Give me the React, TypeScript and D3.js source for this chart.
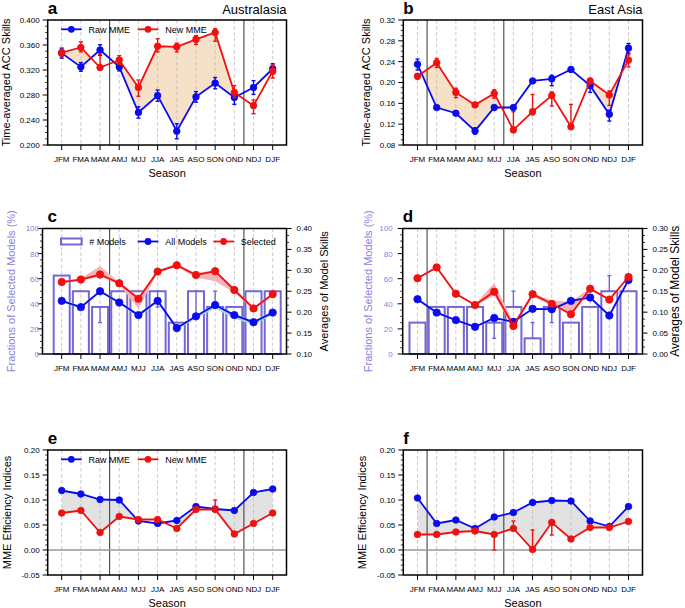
import React from "react";
import * as d3 from "d3";

const seasons = ["JFM", "FMA", "MAM", "AMJ", "MJJ", "JJA", "JAS", "ASO", "SON", "OND", "NDJ", "DJF"];

// Panel a: Australasia ACC
const auRawAcc = [0.347, 0.325, 0.352, 0.325, 0.252, 0.279, 0.222, 0.277, 0.299, 0.276, 0.292, 0.322];
const auRawHi = [0.355, 0.332, 0.3605, 0.3315, 0.261, 0.288, 0.234, 0.2855, 0.308, 0.287, 0.303, 0.330];
const auRawLo = [0.339, 0.318, 0.3435, 0.3185, 0.243, 0.270, 0.210, 0.2685, 0.290, 0.265, 0.281, 0.314];
const auNewAcc = [0.348, 0.356, 0.324, 0.336, 0.292, 0.358, 0.357, 0.369, 0.380, 0.284, 0.263, 0.318];
const auNewHi = [0.353, 0.365, 0.345, 0.343, 0.304, 0.370, 0.363, 0.375, 0.386, 0.295, 0.272, 0.328];
const auNewLo = [0.341, 0.349, 0.320, 0.329, 0.278, 0.349, 0.349, 0.361, 0.366, 0.276, 0.250, 0.307];

// Panel b: East Asia ACC
const eaRawAcc = [0.235, 0.152, 0.141, 0.107, 0.152, 0.152, 0.203, 0.207, 0.225, 0.194, 0.139, 0.266];
const eaRawHi = [0.245, 0.155, 0.145, 0.113, 0.156, 0.156, 0.206, 0.214, 0.230, 0.202, 0.147, 0.275];
const eaRawLo = [0.224, 0.149, 0.137, 0.101, 0.148, 0.148, 0.200, 0.194, 0.220, 0.181, 0.126, 0.256];
const eaNewAcc = [0.212, 0.238, 0.181, 0.157, 0.179, 0.109, 0.144, 0.175, 0.115, 0.203, 0.176, 0.243];
const eaNewHi = [0.217, 0.246, 0.189, 0.160, 0.186, 0.144, 0.177, 0.182, 0.158, 0.208, 0.184, 0.253];
const eaNewLo = [0.207, 0.229, 0.171, 0.154, 0.170, 0.104, 0.138, 0.155, 0.111, 0.198, 0.156, 0.230];

// Panel c: Australasia fractions / skills
const auFrac = [62.5, 50, 37.5, 50, 50, 50, 25, 50, 37.5, 37.5, 50, 50];
const auFracLo = [62.5, 50, 25, 50, 50, 37.5, 25, 32, 37.5, 37.5, 50, 50];
const auFracHi = [62.5, 50, 37.5, 50, 50, 50, 25, 50, 50, 37.5, 50, 50];
const auAllSkill = [0.227, 0.212, 0.250, 0.223, 0.193, 0.227, 0.162, 0.190, 0.217, 0.193, 0.176, 0.199];
const auAllHi = [0.230, 0.215, 0.253, 0.226, 0.196, 0.230, 0.165, 0.193, 0.220, 0.196, 0.179, 0.202];
const auAllLo = [0.224, 0.209, 0.247, 0.220, 0.188, 0.224, 0.158, 0.185, 0.209, 0.185, 0.170, 0.193];
const auSelSkill = [0.272, 0.278, 0.290, 0.269, 0.232, 0.297, 0.312, 0.289, 0.298, 0.253, 0.209, 0.243];
const auSelHi = [0.275, 0.281, 0.310, 0.272, 0.236, 0.300, 0.316, 0.293, 0.301, 0.256, 0.212, 0.246];
const auSelLo = [0.269, 0.275, 0.285, 0.266, 0.208, 0.294, 0.309, 0.283, 0.274, 0.247, 0.206, 0.240];

// Panel d: East Asia fractions / skills
const eaFrac = [25, 37.5, 37.5, 37.5, 25, 37.5, 12.5, 37.5, 25, 37.5, 50, 50];
const eaFracLo = [25, 37.5, 37.5, 37.5, 12.5, 37.5, 12.5, 25, 25, 37.5, 50, 50];
const eaFracHi = [25, 37.5, 37.5, 37.5, 25, 50, 25, 37.5, 25, 37.5, 62.5, 50];
const eaAllSkill = [0.131, 0.099, 0.081, 0.065, 0.086, 0.077, 0.108, 0.107, 0.127, 0.135, 0.092, 0.177];
const eaAllHi = [0.133, 0.101, 0.083, 0.067, 0.088, 0.079, 0.110, 0.109, 0.129, 0.137, 0.094, 0.179];
const eaAllLo = [0.129, 0.097, 0.079, 0.063, 0.084, 0.075, 0.106, 0.105, 0.125, 0.133, 0.090, 0.175];
const eaSelSkill = [0.181, 0.207, 0.144, 0.117, 0.149, 0.067, 0.143, 0.120, 0.095, 0.156, 0.130, 0.184];
const eaSelHi = [0.183, 0.209, 0.146, 0.119, 0.170, 0.075, 0.146, 0.128, 0.125, 0.158, 0.132, 0.186];
const eaSelLo = [0.179, 0.205, 0.142, 0.115, 0.140, 0.062, 0.136, 0.117, 0.093, 0.153, 0.128, 0.182];

// Panel e: Australasia efficiency
const auRawEff = [0.119, 0.112, 0.101, 0.100, 0.058, 0.053, 0.059, 0.087, 0.082, 0.079, 0.115, 0.122];
const auRawEffHi = [0.122, 0.115, 0.104, 0.103, 0.061, 0.056, 0.062, 0.090, 0.085, 0.082, 0.118, 0.125];
const auRawEffLo = [0.116, 0.109, 0.098, 0.097, 0.055, 0.050, 0.056, 0.084, 0.079, 0.076, 0.112, 0.119];
const auNewEff = [0.074, 0.079, 0.035, 0.067, 0.061, 0.061, 0.043, 0.081, 0.081, 0.032, 0.053, 0.074];
const auNewEffHi = [0.077, 0.082, 0.038, 0.070, 0.064, 0.064, 0.046, 0.084, 0.100, 0.035, 0.056, 0.077];
const auNewEffLo = [0.071, 0.076, 0.032, 0.064, 0.058, 0.058, 0.040, 0.078, 0.078, 0.029, 0.050, 0.071];

// Panel f: East Asia efficiency
const eaRawEff = [0.104, 0.053, 0.060, 0.043, 0.066, 0.075, 0.095, 0.099, 0.098, 0.058, 0.047, 0.087];
const eaRawEffHi = [0.107, 0.056, 0.063, 0.046, 0.069, 0.078, 0.098, 0.102, 0.101, 0.061, 0.050, 0.090];
const eaRawEffLo = [0.101, 0.050, 0.057, 0.040, 0.063, 0.072, 0.092, 0.096, 0.095, 0.055, 0.044, 0.084];
const eaNewEff = [0.031, 0.031, 0.036, 0.038, 0.031, 0.043, 0.001, 0.055, 0.022, 0.045, 0.045, 0.057];
const eaNewEffHi = [0.034, 0.034, 0.039, 0.041, 0.034, 0.058, 0.040, 0.060, 0.025, 0.048, 0.048, 0.060];
const eaNewEffLo = [0.028, 0.028, 0.033, 0.035, 0.000, 0.040, -0.002, 0.030, 0.019, 0.042, 0.042, 0.054];

// Tick values
const auAccTicks = [0.2, 0.24, 0.28, 0.32, 0.36, 0.4];
const eaAccTicks = [0.08, 0.12, 0.16, 0.2, 0.24, 0.28, 0.32];
const effTicks = [-0.05, 0, 0.05, 0.1, 0.15, 0.2];
const fracTicks = [0, 20, 40, 60, 80, 100];
const auSkillTicks = [0.1, 0.15, 0.2, 0.25, 0.3, 0.35, 0.4];
const eaSkillTicks = [0, 0.05, 0.1, 0.15, 0.2, 0.25, 0.3];

const FONT = "'Liberation Sans', Arial, Helvetica, sans-serif";
const BLUE = "#0a0af0";
const RED = "#f01010";
const PURPLE = "#7566d6";
const PURPLE_TXT = "#8c7fe0";

type Fr = { x0: number; x1: number; y0: number; y1: number; c0: number; c1: number };

const frA: Fr = { x0: 47.7, x1: 286.5, y0: 20, y1: 145, c0: 61.7, c1: 272.7 };
const frB: Fr = { x0: 403.3, x1: 642.5, y0: 20, y1: 145, c0: 417.5, c1: 628.5 };
const frC: Fr = { x0: 42.5, x1: 286.5, y0: 228.5, y1: 354, c0: 61.7, c1: 272.7 };
const frD: Fr = { x0: 402.7, x1: 642.5, y0: 228.5, y1: 354, c0: 417.5, c1: 628.5 };
const frE: Fr = { x0: 47.7, x1: 286.5, y0: 450, y1: 575, c0: 61.7, c1: 272.7 };
const frF: Fr = { x0: 403.3, x1: 642.5, y0: 450, y1: 575, c0: 417.5, c1: 628.5 };

const idx = d3.range(seasons.length);

function minorVals(d: [number, number], step: number, majors: number[]) {
  const out: number[] = [];
  const n = Math.round((d[1] - d[0]) / step);
  for (let i = 0; i <= n; i++) {
    const v = d[0] + i * step;
    if (!majors.some((m) => Math.abs(m - v) < step / 10)) out.push(v);
  }
  return out;
}

function Grid({ fr, x, seps }: { fr: Fr; x: d3.ScalePoint<string>; seps: number[] }) {
  return (
    <g>
      {seasons.map((s) => (
        <line key={s} x1={x(s)} x2={x(s)} y1={fr.y0} y2={fr.y1} stroke="#bdbdbd" strokeWidth={0.8} strokeDasharray="3.5 2.5" />
      ))}
      {seps.map((i) => {
        const xm = ((x(seasons[i]) as number) + (x(seasons[i + 1]) as number)) / 2;
        return <line key={"sep" + i} x1={xm} x2={xm} y1={fr.y0} y2={fr.y1} stroke="#333" strokeWidth={1} />;
      })}
    </g>
  );
}

function XAxis({ fr, x, title }: { fr: Fr; x: d3.ScalePoint<string>; title: boolean }) {
  return (
    <g fontFamily={FONT}>
      {seasons.map((s) => (
        <g key={s}>
          <line x1={x(s)} x2={x(s)} y1={fr.y1} y2={fr.y1 + 5} stroke="#000" strokeWidth={1} />
          <text x={x(s)} y={fr.y1 + 16.5} fontSize={8} textAnchor="middle" fill="#000">{s}</text>
        </g>
      ))}
      {title && (
        <text x={(fr.x0 + fr.x1) / 2} y={fr.y1 + 31.5} fontSize={11} textAnchor="middle" fill="#000">Season</text>
      )}
    </g>
  );
}

function YAxis({ fr, y, majors, minorStep, digits, side, color, gap }: {
  fr: Fr; y: d3.ScaleLinear<number, number>; majors: number[]; minorStep: number; digits: number;
  side: "left" | "right"; color: string; gap: number;
}) {
  const d = y.domain() as [number, number];
  const minors = minorVals(d, minorStep, majors);
  const ax = side === "left" ? fr.x0 : fr.x1;
  const dir = side === "left" ? -1 : 1;
  return (
    <g fontFamily={FONT}>
      {majors.map((v) => (
        <g key={"M" + v}>
          <line x1={ax} x2={ax + dir * 5} y1={y(v)} y2={y(v)} stroke="#000" strokeWidth={1} />
          <text x={ax + dir * gap} y={y(v) + 2.9} fontSize={8} fill={color} textAnchor={side === "left" ? "end" : "start"}>
            {v.toFixed(digits)}
          </text>
        </g>
      ))}
      {minors.map((v) => (
        <line key={"m" + v} x1={ax} x2={ax + dir * 2.5} y1={y(v)} y2={y(v)} stroke="#000" strokeWidth={0.8} />
      ))}
    </g>
  );
}

function ErrBar({ x, y1, y2, color, w }: { x: number; y1: number; y2: number; color: string; w: number }) {
  if (Math.abs(y1 - y2) < 0.5) return null;
  return (
    <g stroke={color} strokeWidth={w}>
      <line x1={x} x2={x} y1={y1} y2={y2} />
      <line x1={x - 2} x2={x + 2} y1={y1} y2={y1} />
      <line x1={x - 2} x2={x + 2} y1={y2} y2={y2} />
    </g>
  );
}

function Series({ x, y, v, hi, lo, color, r }: {
  x: d3.ScalePoint<string>; y: d3.ScaleLinear<number, number>; v: number[]; hi: number[]; lo: number[]; color: string; r: number;
}) {
  const line = d3.line<number>().x((i) => x(seasons[i]) as number).y((i) => y(v[i]));
  return (
    <g>
      <path d={line(idx) || ""} fill="none" stroke={color} strokeWidth={1.8} />
      {idx.map((i) => (
        <ErrBar key={"e" + i} x={x(seasons[i]) as number} y1={y(hi[i])} y2={y(lo[i])} color={color} w={1.4} />
      ))}
      {idx.map((i) => (
        <circle key={"c" + i} cx={x(seasons[i])} cy={y(v[i])} r={r} fill={color} stroke={color} strokeWidth={0.8} />
      ))}
    </g>
  );
}

function LineLegend({ x0, yy, color, label }: { x0: number; yy: number; color: string; label: string }) {
  return (
    <g fontFamily={FONT}>
      <line x1={x0} x2={x0 + 20.7} y1={yy} y2={yy} stroke={color} strokeWidth={1.8} />
      <circle cx={x0 + 10.3} cy={yy} r={3.4} fill={color} />
      <text x={x0 + 27.5} y={yy + 3.2} fontSize={9} fill="#000">{label}</text>
    </g>
  );
}

function LinePanel(p: {
  id: string; fr: Fr; domain: [number, number]; majors: number[]; minorStep: number; digits: number; seps: number[];
  raw: number[]; rawHi: number[]; rawLo: number[]; nw: number[]; nwHi: number[]; nwLo: number[];
  fill: string; newAbove: boolean; legend: boolean; letter: string; region?: string; ylabel: string; ylabelX: number;
  zero: boolean;
}) {
  const { fr } = p;
  const x = d3.scalePoint<string>().domain(seasons).range([fr.c0, fr.c1]);
  const y = d3.scaleLinear().domain(p.domain).range([fr.y1, fr.y0]);
  const area = d3.area<number>()
    .x((i) => x(seasons[i]) as number)
    .y0((i) => y(p.raw[i]))
    .y1((i) => y(p.nw[i]));
  const lower = p.newAbove ? p.raw : p.nw;
  const clipPts = idx.map((i) => [x(seasons[i]) as number, y(lower[i])]);
  clipPts.push([fr.c1, fr.y0 - 10], [fr.c0, fr.y0 - 10]);
  const clipD = "M" + clipPts.map((q) => q.join(",")).join("L") + "Z";
  const cy = (fr.y0 + fr.y1) / 2;
  return (
    <g>
      <defs>
        <clipPath id={"clip" + p.id}>
          <path d={clipD} />
        </clipPath>
      </defs>
      <path d={area(idx) || ""} fill={p.fill} clipPath={`url(#clip${p.id})`} />
      <Grid fr={fr} x={x} seps={p.seps} />
      {p.zero && <line x1={fr.x0} x2={fr.x1} y1={y(0)} y2={y(0)} stroke="#999" strokeWidth={1.5} />}
      <Series x={x} y={y} v={p.raw} hi={p.rawHi} lo={p.rawLo} color={BLUE} r={3.3} />
      <Series x={x} y={y} v={p.nw} hi={p.nwHi} lo={p.nwLo} color={RED} r={3.3} />
      <rect x={fr.x0} y={fr.y0} width={fr.x1 - fr.x0} height={fr.y1 - fr.y0} fill="none" stroke="#000" strokeWidth={1.5} />
      <YAxis fr={fr} y={y} majors={p.majors} minorStep={p.minorStep} digits={p.digits} side="left" color="#000" gap={8} />
      <XAxis fr={fr} x={x} title={true} />
      {p.legend && (
        <g>
          <LineLegend x0={fr.c0 - 0.7} yy={fr.y0 + 9.3} color={BLUE} label="Raw MME" />
          <LineLegend x0={fr.c0 + 76} yy={fr.y0 + 9.3} color={RED} label="New MME" />
        </g>
      )}
      <text x={fr.x0} y={fr.y0 - 6.5} fontFamily={FONT} fontSize={17} fontWeight="bold" fill="#000">{p.letter}</text>
      {p.region && (
        <text x={fr.x1} y={fr.y0 - 6.5} fontFamily={FONT} fontSize={13} textAnchor="end" fill="#000">{p.region}</text>
      )}
      <text transform={`translate(${p.ylabelX},${cy}) rotate(-90)`} fontFamily={FONT} fontSize={11} textAnchor="middle" fill="#000">
        {p.ylabel}
      </text>
    </g>
  );
}

function Band({ x, y, hi, lo, color }: { x: d3.ScalePoint<string>; y: d3.ScaleLinear<number, number>; hi: number[]; lo: number[]; color: string }) {
  const area = d3.area<number>().x((i) => x(seasons[i]) as number).y0((i) => y(lo[i])).y1((i) => y(hi[i]));
  return <path d={area(idx) || ""} fill={color} />;
}

function BarPanel(p: {
  fr: Fr; seps: number[]; frac: number[]; fracLo: number[]; fracHi: number[];
  all: number[]; allHi: number[]; allLo: number[]; sel: number[]; selHi: number[]; selLo: number[];
  rDomain: [number, number]; rMajors: number[]; legend: boolean; letter: string;
  lLabelX: number; rLabelX: number; rLabelSize: number; lGap: number;
}) {
  const { fr } = p;
  const x = d3.scalePoint<string>().domain(seasons).range([fr.c0, fr.c1]);
  const yl = d3.scaleLinear().domain([0, 100]).range([fr.y1, fr.y0]);
  const yr = d3.scaleLinear().domain(p.rDomain).range([fr.y1, fr.y0]);
  const bw = 16;
  const cy = (fr.y0 + fr.y1) / 2;
  return (
    <g>
      <Grid fr={fr} x={x} seps={p.seps} />
      {idx.map((i) => (
        <rect key={"b" + i} x={(x(seasons[i]) as number) - bw / 2} y={yl(p.frac[i])} width={bw}
          height={yl(0) - yl(p.frac[i])} fill="none" stroke={PURPLE} strokeWidth={2} />
      ))}
      {idx.map((i) => (
        <ErrBar key={"be" + i} x={x(seasons[i]) as number} y1={yl(p.fracHi[i])} y2={yl(p.fracLo[i])} color={PURPLE} w={1.4} />
      ))}
      <Band x={x} y={yr} hi={p.selHi} lo={p.selLo} color="#f7b3b8" />
      <Band x={x} y={yr} hi={p.allHi} lo={p.allLo} color="#a9dddb" />
      <Series x={x} y={yr} v={p.all} hi={p.all} lo={p.all} color={BLUE} r={3.7} />
      <Series x={x} y={yr} v={p.sel} hi={p.sel} lo={p.sel} color={RED} r={3.7} />
      <rect x={fr.x0} y={fr.y0} width={fr.x1 - fr.x0} height={fr.y1 - fr.y0} fill="none" stroke="#000" strokeWidth={1.5} />
      <YAxis fr={fr} y={yl} majors={fracTicks} minorStep={5} digits={0} side="left" color={PURPLE_TXT} gap={p.lGap} />
      <YAxis fr={fr} y={yr} majors={p.rMajors} minorStep={(p.rDomain[1] - p.rDomain[0]) / 18} digits={2} side="right" color="#000" gap={10} />
      <XAxis fr={fr} x={x} title={false} />
      {p.legend && (
        <g fontFamily={FONT}>
          <rect x={fr.c0 - 0.7} y={fr.y0 + 10} width={20.7} height={6} fill="none" stroke={PURPLE} strokeWidth={2} />
          <text x={fr.c0 + 27.6} y={fr.y0 + 16.2} fontSize={9} fill="#000"># Models</text>
          <LineLegend x0={fr.c0 + 76} yy={fr.y0 + 13} color={BLUE} label="All Models" />
          <LineLegend x0={fr.c0 + 151.6} yy={fr.y0 + 13} color={RED} label="Selected" />
        </g>
      )}
      <text x={fr.x0 + (p.legend ? 5 : 0)} y={fr.y0 - 6.8} fontFamily={FONT} fontSize={17} fontWeight="bold" fill="#000">{p.letter}</text>
      <text transform={`translate(${p.lLabelX},${cy}) rotate(-90)`} fontFamily={FONT} fontSize={11} textAnchor="middle" fill={PURPLE_TXT}>
        Fractions of Selected Models (%)
      </text>
      <text transform={`translate(${p.rLabelX},${cy}) rotate(-90)`} fontFamily={FONT} fontSize={p.rLabelSize} textAnchor="middle" fill="#000">
        Averages of Model Skills
      </text>
    </g>
  );
}

export default function App() {
  return (
    <svg width={685} height={608} style={{ position: "absolute", left: 0, top: 0, background: "#fff" }}>
      <rect width={685} height={608} fill="#fff" />
      <LinePanel id="a" fr={frA} domain={[0.2, 0.4]} majors={auAccTicks} minorStep={0.01} digits={3} seps={[2, 9]}
        raw={auRawAcc} rawHi={auRawHi} rawLo={auRawLo} nw={auNewAcc} nwHi={auNewHi} nwLo={auNewLo}
        fill="#f6e1c8" newAbove={true} legend={true} letter="a" region="Australasia"
        ylabel="Time-averaged ACC Skills" ylabelX={9.5} zero={false} />
      <LinePanel id="b" fr={frB} domain={[0.08, 0.32]} majors={eaAccTicks} minorStep={0.01} digits={2} seps={[0, 4]}
        raw={eaRawAcc} rawHi={eaRawHi} rawLo={eaRawLo} nw={eaNewAcc} nwHi={eaNewHi} nwLo={eaNewLo}
        fill="#f6e1c8" newAbove={true} legend={false} letter="b" region="East Asia"
        ylabel="Time-averaged ACC Skills" ylabelX={369.5} zero={false} />
      <BarPanel fr={frC} seps={[2, 9]} frac={auFrac} fracLo={auFracLo} fracHi={auFracHi}
        all={auAllSkill} allHi={auAllHi} allLo={auAllLo} sel={auSelSkill} selHi={auSelHi} selLo={auSelLo}
        rDomain={[0.1, 0.4]} rMajors={auSkillTicks} legend={true} letter="c"
        lLabelX={15} rLabelX={328} rLabelSize={11} lGap={3.5} />
      <BarPanel fr={frD} seps={[0, 4]} frac={eaFrac} fracLo={eaFracLo} fracHi={eaFracHi}
        all={eaAllSkill} allHi={eaAllHi} allLo={eaAllLo} sel={eaSelSkill} selHi={eaSelHi} selLo={eaSelLo}
        rDomain={[0, 0.3]} rMajors={eaSkillTicks} legend={false} letter="d"
        lLabelX={371.5} rLabelX={678.5} rLabelSize={12} lGap={10} />
      <LinePanel id="e" fr={frE} domain={[-0.05, 0.2]} majors={effTicks} minorStep={0.01} digits={2} seps={[2, 9]}
        raw={auRawEff} rawHi={auRawEffHi} rawLo={auRawEffLo} nw={auNewEff} nwHi={auNewEffHi} nwLo={auNewEffLo}
        fill="#e2e2e2" newAbove={false} legend={true} letter="e"
        ylabel="MME Efficiency Indices" ylabelX={10.5} zero={true} />
      <LinePanel id="f" fr={frF} domain={[-0.05, 0.2]} majors={effTicks} minorStep={0.01} digits={2} seps={[0, 4]}
        raw={eaRawEff} rawHi={eaRawEffHi} rawLo={eaRawEffLo} nw={eaNewEff} nwHi={eaNewEffHi} nwLo={eaNewEffLo}
        fill="#e2e2e2" newAbove={false} legend={false} letter="f"
        ylabel="MME Efficiency Indices" ylabelX={365.5} zero={true} />
    </svg>
  );
}
